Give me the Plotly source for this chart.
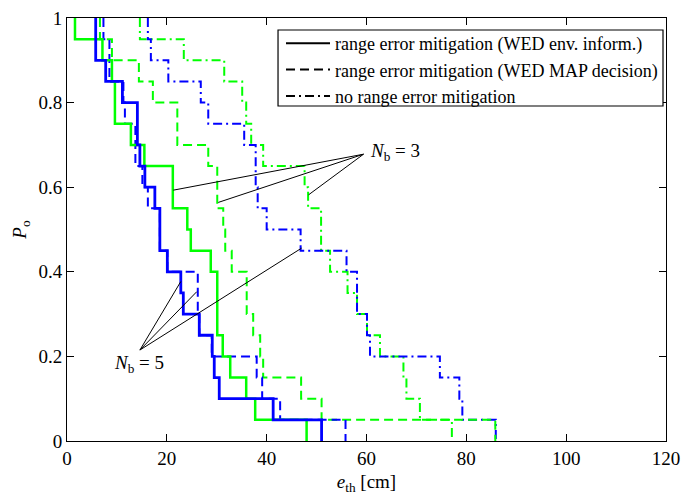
import plotly.graph_objects as go

# ---- data: step corners (threshold e_th [cm], outage probability after the step) ----
# Nb = 3 (green)
gs_e = [1.6, 7.1, 9.0, 9.6, 12.8, 15.5, 21.2, 24.1, 24.8, 28.8, 30.1, 31.2, 32.7, 35.9, 37.7, 48.0]
gs_p = [0.95, 0.9, 0.85, 0.75, 0.7, 0.65, 0.55, 0.5, 0.45, 0.4, 0.25, 0.2, 0.15, 0.1, 0.05, 0.0]

gd_e = [6.6, 9.0, 14.4, 17.2, 22.1, 28.3, 30.1, 31.3, 31.7, 33.0, 36.0, 37.3, 38.7, 39.3, 46.9, 51.0, 85.8]
gd_p = [0.95, 0.9, 0.85, 0.8, 0.7, 0.65, 0.55, 0.5, 0.45, 0.4, 0.3, 0.25, 0.2, 0.15, 0.1, 0.05, 0.0]

gdd_e = [14.6, 23.4, 31.5, 35.1, 35.9, 36.9, 39.3, 47.6, 48.3, 50.9, 52.7, 56.2, 58.1, 60.1, 62.7, 67.4, 68.0, 70.7, 77.1]
gdd_p = [0.95, 0.9, 0.85, 0.8, 0.75, 0.7, 0.65, 0.6, 0.55, 0.45, 0.4, 0.35, 0.3, 0.25, 0.2, 0.15, 0.1, 0.05, 0.0]

# Nb = 5 (blue)
bs_e = [5.75, 7.75, 11.1, 14.1, 14.6, 15.6, 17.6, 18.6, 20.1, 22.8, 23.3, 26.5, 29.1, 29.5, 30.5, 41.3, 51.0]
bs_p = [0.9, 0.85, 0.8, 0.7, 0.65, 0.6, 0.55, 0.45, 0.4, 0.35, 0.3, 0.25, 0.2, 0.15, 0.1, 0.05, 0.0]

bd_e = [7.3, 8.5, 11.3, 11.6, 13.7, 15.1, 16.2, 18.6, 20.1, 26.2, 26.5, 29.0, 38.0, 39.1, 42.7, 55.8]
bd_p = [0.95, 0.85, 0.8, 0.75, 0.65, 0.6, 0.55, 0.45, 0.4, 0.3, 0.25, 0.2, 0.15, 0.1, 0.05, 0.0]

bdd_e = [16.2, 16.8, 20.3, 26.8, 28.3, 35.5, 37.8, 38.2, 40.0, 46.8, 56.0, 58.1, 60.1, 60.7, 74.7, 78.6, 79.2, 85.9]
bdd_p = [0.95, 0.9, 0.85, 0.8, 0.75, 0.7, 0.6, 0.55, 0.5, 0.45, 0.4, 0.3, 0.25, 0.2, 0.15, 0.1, 0.05, 0.0]

legend_names = ["range error mitigation (WED env. inform.)",
                "range error mitigation (WED MAP decision)",
                "no range error mitigation"]

x_ticks = [0, 20, 40, 60, 80, 100, 120]
y_ticks = [0, 0.2, 0.4, 0.6, 0.8, 1]
y_ticklabels = ["0", "0.2", "0.4", "0.6", "0.8", "1"]

# annotation pointers (data coords)
nb3_anchor = (59.4, 0.678)
nb3_targets = [(21.3, 0.593), (30.3, 0.564), (48.4, 0.582)]
nb5_anchor = (14.6, 0.215)
nb5_targets = [(22.8, 0.377), (26.0, 0.353), (47.0, 0.456)]

GREEN = "#00ff00"
BLUE = "#0000ff"
DASH = "9px,5px"
DASHDOT = "9px,4px,2px,4px"
FONT = "Liberation Serif, Times New Roman, serif"

fig = go.Figure()

def add_step(e, p, color, dash, width):
    fig.add_trace(go.Scatter(
        x=[e[0]] + e, y=[1.0] + p, mode="lines", line_shape="hv",
        line=dict(color=color, dash=dash, width=width),
        showlegend=False, hoverinfo="skip"))

add_step(gdd_e, gdd_p, GREEN, DASHDOT, 2)
add_step(bdd_e, bdd_p, BLUE, DASHDOT, 2)
add_step(gd_e, gd_p, GREEN, DASH, 2)
add_step(bd_e, bd_p, BLUE, DASH, 2)
add_step(gs_e, gs_p, GREEN, "solid", 2.5)
add_step(bs_e, bs_p, BLUE, "solid", 2.8)

for name, dash in zip(legend_names, ["solid", DASH, DASHDOT]):
    fig.add_trace(go.Scatter(x=[None], y=[None], mode="lines", name=name,
                             line=dict(color="black", dash=dash, width=2)))

shapes = []
for anchor, targets in [(nb3_anchor, nb3_targets), (nb5_anchor, nb5_targets)]:
    for tx, ty in targets:
        shapes.append(dict(type="line", xref="x", yref="y",
                           x0=anchor[0], y0=anchor[1], x1=tx, y1=ty,
                           line=dict(color="black", width=1)))

# legend frame (white box with black border; legend entries are drawn on top)
shapes.append(dict(type="rect", xref="x domain", yref="y domain",
                   x0=0.3523, x1=0.995, y0=0.792, y1=0.9716,
                   fillcolor="white", line=dict(color="black", width=1.2)))

annotations = [
    dict(x=60.3, y=0.683, xref="x", yref="y", xanchor="left", yanchor="middle",
         text="<i>N</i><sub>b</sub> = 3", showarrow=False,
         font=dict(family=FONT, size=19, color="black")),
    dict(x=9.0, y=0.182, xref="x", yref="y", xanchor="left", yanchor="middle",
         text="<i>N</i><sub>b</sub> = 5", showarrow=False,
         font=dict(family=FONT, size=19, color="black")),
]

axis_common = dict(showgrid=False, zeroline=False, showline=True, linecolor="black",
                   linewidth=1, mirror="ticks", ticks="inside", ticklen=7,
                   tickcolor="black", automargin=False,
                   tickfont=dict(family=FONT, size=19, color="black"))

fig.update_layout(
    width=684, height=495,
    margin=dict(l=67, r=18, t=18, b=54),
    paper_bgcolor="white", plot_bgcolor="white",
    font=dict(family=FONT, color="black"),
    shapes=shapes, annotations=annotations,
    xaxis=dict(range=[0, 120], tickvals=x_ticks,
               title=dict(text="<i>e</i><sub>th</sub> [cm]", standoff=6,
                          font=dict(family=FONT, size=19, color="black")),
               **axis_common),
    yaxis=dict(range=[0, 1], tickvals=y_ticks, ticktext=y_ticklabels,
               title=dict(text="<i>P</i><sub>o</sub>", standoff=6,
                          font=dict(family=FONT, size=19, color="black")),
               **axis_common),
    legend=dict(x=0.995, y=0.9835, xanchor="right", yanchor="top",
                bgcolor="rgba(0,0,0,0)", borderwidth=0,
                font=dict(family=FONT, size=18, color="black"),
                itemwidth=44, tracegroupgap=0),
)

fig.write_html("out.html", config={"displayModeBar": False},
               post_script="document.body.style.margin='0';document.body.style.padding='0';")
